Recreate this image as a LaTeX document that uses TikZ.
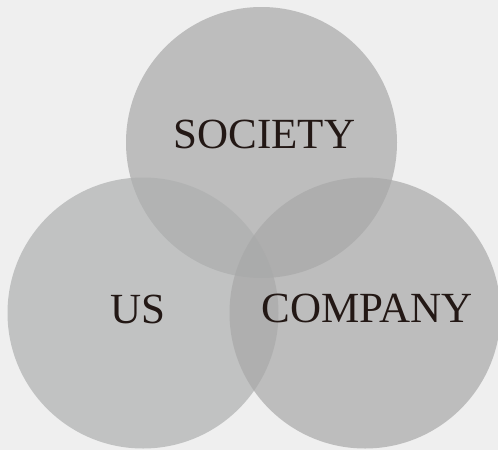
\documentclass[tikz,border=0pt]{standalone}
\usepackage{fontspec}
\setmainfont{Liberation Serif}
\usepackage{xcolor}
\usepackage{tikz}
\usetikzlibrary{positioning}
\definecolor{bggray}{HTML}{EFEFEF}
\definecolor{discgray}{gray}{0.66}
\definecolor{discleft}{HTML}{AEB0B0}
\definecolor{labelink}{HTML}{231815}

\begin{document}
\begin{tikzpicture}[
  x=1pt, y=-1pt,
  disc/.style={circle, minimum size=271pt, inner sep=0pt, fill=discgray, fill opacity=0.70, draw=none},
  word/.style={anchor=base, font=\fontsize{43}{43}\selectfont, text=labelink}
]
  \fill[bggray] (0,0) rectangle (498,450);
  \useasboundingbox (0,0) rectangle (498,450);
  \node[disc] (society) at (261.5,142.5) {};
  \node[disc, fill=discleft] (us) at (143,313) {};
  \node[disc] (company) at (365,313) {};
  % labels
  \node[word] (societytext) at (264.5,148) {SOCIETY};
  \node[word] (ustext) at (138,323) {US};
  \node[word] (companytext) at (367,322) {COMPANY};
\end{tikzpicture}
\end{document}
